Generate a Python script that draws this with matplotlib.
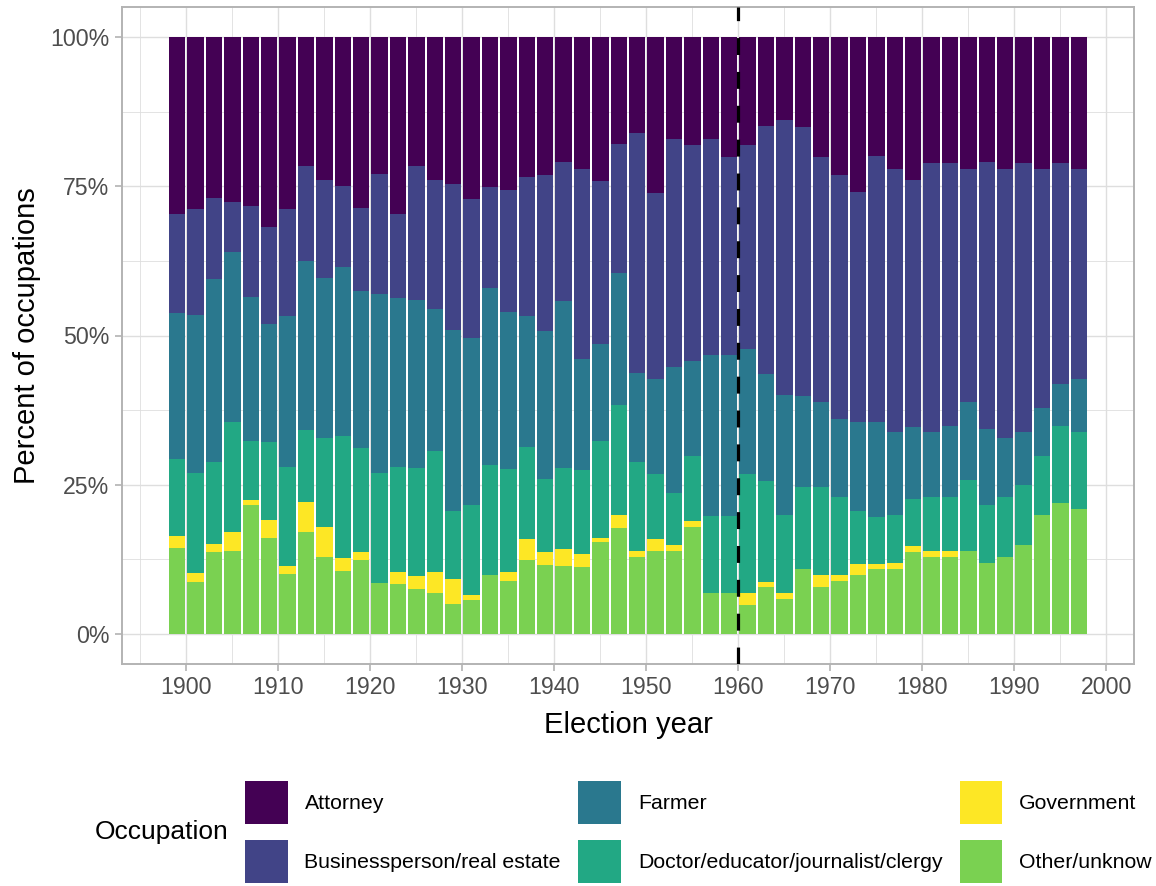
import numpy as np
import matplotlib.pyplot as plt
from matplotlib.patches import Patch

plt.rcParams['font.family'] = ['Liberation Sans', 'DejaVu Sans']

# Valgår (midten av hver søyle) og andeler i prosent
years = [1899, 1901, 1903, 1905, 1907, 1909, 1911, 1913, 1915, 1917,
         1919, 1921, 1923, 1925, 1927, 1929, 1931, 1933, 1935, 1937,
         1939, 1941, 1943, 1945, 1947, 1949, 1951, 1953, 1955, 1957,
         1959, 1961, 1963, 1965, 1967, 1969, 1971, 1973, 1975, 1977,
         1979, 1981, 1983, 1985, 1987, 1989, 1991, 1993, 1995, 1997]

other = [14.4, 8.7, 13.7, 14.0, 21.7, 16.1, 10.0, 17.1, 12.9, 10.5,
         12.4, 8.5, 8.4, 7.5, 6.9, 5.0, 5.7, 9.9, 8.9, 12.4,
         11.5, 11.4, 11.2, 15.4, 17.7, 12.9, 13.9, 13.9, 17.9, 6.9,
         6.9, 4.9, 7.9, 5.9, 10.9, 7.9, 8.9, 9.9, 10.9, 10.9,
         13.7, 12.9, 12.9, 13.9, 11.9, 12.9, 14.9, 19.9, 21.9, 20.9]
government = [2.0, 1.5, 1.4, 3.1, 0.7, 3.0, 1.4, 5.1, 5.0, 2.2,
              1.3, 0.0, 2.0, 2.2, 3.5, 4.2, 0.8, 0.0, 1.5, 3.5,
              2.2, 2.8, 2.2, 0.7, 2.2, 1.0, 2.0, 1.0, 1.0, 0.0,
              0.0, 2.0, 0.8, 1.0, 0.0, 2.0, 1.0, 1.8, 0.8, 1.0,
              1.0, 1.0, 1.0, 0.0, 0.0, 0.0, 0.0, 0.0, 0.0, 0.0]
doctor = [12.9, 16.7, 13.7, 18.5, 10.0, 13.0, 16.5, 11.9, 15.0, 20.4,
          17.4, 18.4, 17.5, 18.1, 20.2, 11.5, 15.2, 18.5, 17.2, 15.4,
          12.2, 13.6, 14.0, 16.2, 18.4, 14.9, 10.9, 8.8, 10.9, 12.8,
          12.8, 19.9, 16.9, 13.0, 13.8, 14.8, 13.0, 8.9, 7.9, 8.0,
          7.9, 9.0, 9.0, 11.9, 9.7, 10.0, 10.0, 9.9, 12.9, 12.9]
farmer = [24.5, 26.6, 30.6, 28.4, 24.1, 19.9, 25.3, 28.4, 26.8, 28.4,
          26.4, 30.1, 28.3, 28.1, 23.9, 30.3, 27.8, 29.5, 26.4, 21.9,
          24.8, 27.9, 18.6, 16.2, 22.2, 15.0, 16.0, 21.1, 16.0, 27.1,
          27.1, 21.0, 17.9, 20.1, 15.1, 14.1, 13.1, 14.9, 15.9, 14.0,
          12.0, 11.0, 12.0, 13.0, 12.8, 10.0, 9.0, 8.0, 7.0, 9.0]
business = [16.6, 17.7, 13.7, 8.4, 15.2, 16.2, 17.9, 15.8, 16.4, 13.6,
            13.9, 20.1, 14.2, 22.4, 21.6, 24.4, 23.4, 17.0, 20.4, 23.4,
            26.1, 23.4, 31.9, 27.4, 21.6, 40.1, 31.1, 38.1, 36.1, 36.1,
            33.1, 34.1, 41.6, 46.0, 45.1, 41.1, 40.9, 38.6, 44.6, 44.0,
            41.5, 45.0, 44.0, 39.1, 44.7, 45.0, 45.0, 40.1, 37.1, 35.1]
attorney = [29.6, 28.8, 26.9, 27.6, 28.3, 31.8, 28.9, 21.7, 23.9, 24.9,
            28.6, 22.9, 29.6, 21.7, 23.9, 24.6, 27.1, 25.1, 25.6, 23.4,
            23.2, 20.9, 22.1, 24.1, 17.9, 16.1, 26.1, 17.1, 18.1, 17.1,
            20.1, 18.1, 14.9, 14.0, 15.1, 20.1, 23.1, 25.9, 19.9, 22.1,
            23.9, 21.1, 21.1, 22.1, 20.9, 22.1, 21.1, 22.1, 21.1, 22.1]

labels = ["Attorney", "Businessperson/real estate", "Farmer",
          "Doctor/educator/journalist/clergy", "Government", "Other/unknow"]
colors = ["#440154", "#414487", "#2A788E", "#22A884", "#FDE725", "#7AD151"]
series = [attorney, business, farmer, doctor, government, other]

fig = plt.figure(figsize=(11.56, 8.86), dpi=100)
ax = fig.add_axes([122 / 1156, 1 - 664 / 886, 1012 / 1156, 657 / 886])

# Stabler nedenfra: Other, Government, Doctor, Farmer, Business, Attorney
data = np.array(series, dtype=float)
data = data / data.sum(axis=0) * 100
bottom = np.zeros(len(years))
for i in range(len(series) - 1, -1, -1):
    ax.bar(years, data[i], width=1.8, bottom=bottom, color=colors[i],
           linewidth=0, zorder=2)
    bottom += data[i]

ax.axvline(1960, color="black", lw=2.3, linestyle=(0, (5.3, 5.3)), zorder=3)

ax.set_xlim(1893, 2003)
ax.set_ylim(-5, 105)
ax.set_xticks(range(1900, 2001, 10))
ax.set_xticks(range(1895, 2001, 10), minor=True)
ax.set_yticks([0, 25, 50, 75, 100])
ax.set_yticks([12.5, 37.5, 62.5, 87.5], minor=True)
ax.set_yticklabels(["0%", "25%", "50%", "75%", "100%"])

ax.grid(True, which="major", color="#DEDEDE", lw=1.0, zorder=0)
ax.grid(True, which="minor", color="#DEDEDE", lw=0.6, zorder=0)
ax.set_axisbelow(True)
for s in ax.spines.values():
    s.set_color("#B3B3B3")
    s.set_linewidth(1.4)
ax.tick_params(which="major", length=5, width=1.2, color="#B3B3B3",
               labelcolor="#4D4D4D", labelsize=16.7, pad=4)
ax.tick_params(which="minor", length=0)

ax.set_xlabel("Election year", fontsize=21, labelpad=8)
ax.set_ylabel("Percent of occupations", fontsize=21, labelpad=7)

handles = [Patch(facecolor=c, edgecolor="none") for c in colors]
fig.legend(handles, labels, ncol=3, loc="upper left",
           bbox_to_anchor=(245 / 1156, 1 - 781 / 886), frameon=False,
           fontsize=15.3, handlelength=2.0, handleheight=2.75,
           labelspacing=0.75, handletextpad=0.8, columnspacing=0.82,
           borderpad=0, borderaxespad=0)
fig.text(95 / 1156, 1 - 832 / 886, "Occupation", fontsize=19, va="center")

fig.savefig("out.png", dpi=100)
